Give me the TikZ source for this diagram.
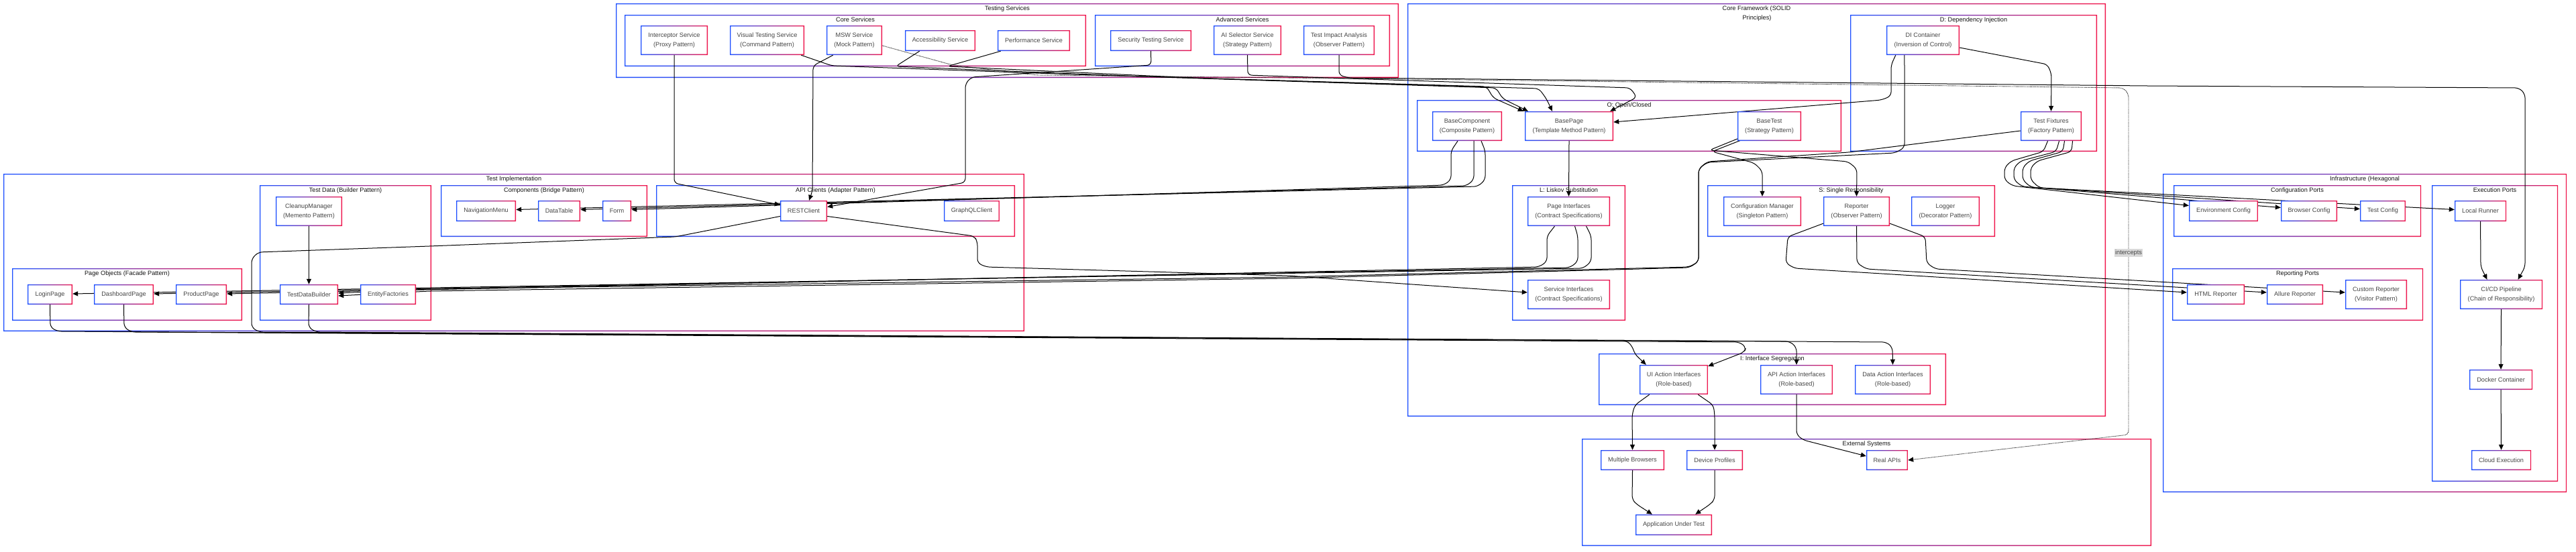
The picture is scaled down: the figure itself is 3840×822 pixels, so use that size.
\documentclass[tikz,border=0pt]{standalone}
\usepackage{fontspec}
\setmainfont{Liberation Sans}
\usetikzlibrary{arrows.meta,calc}
\definecolor{cb}{RGB}{30,80,255}
\definecolor{cr}{RGB}{240,20,75}
\definecolor{ntext}{RGB}{70,70,70}
\definecolor{ttext}{RGB}{20,20,20}
\pgfdeclarelayer{bgl}
\pgfdeclarelayer{edl}
\pgfsetlayers{bgl,edl,main}
\tikzset{
 nb/.style={fill=white,draw=none,inner sep=0pt,align=center,text=ntext,font=\fontsize{9.2}{14}\selectfont},
 ttl/.style={inner sep=0pt,text=ttext,font=\fontsize{9.2}{14}\selectfont,anchor=base},
 lbl/.style={fill=black!15,inner sep=1.5pt,text=ntext,font=\fontsize{9.2}{14}\selectfont},
 ed/.style={draw=black,line width=1pt,rounded corners=6pt,-{Triangle[length=8pt,width=7pt]}},
 edd/.style={draw=black,line width=0.9pt,densely dotted,rounded corners=6pt,-{Triangle[length=8pt,width=7pt]}},
}
\newcommand\NB[6]{%
 \node[nb,minimum width={(#4-#2)*1pt},minimum height={(#5-#3)*1pt}] (#1) at ({(#2+#4)/2},{(#3+#5)/2}) {#6};
 \shade[left color=cb,right color=cr,even odd rule] (#2,#3) rectangle (#4,#5) ({#2+1.3},{#3+1.3}) rectangle ({#4-1.3},{#5-1.3});
}
\newcommand\CL[6]{%
 \shade[left color=cb,right color=cr,even odd rule] (#2,#3) rectangle (#4,#5) ({#2+1.3},{#3+1.3}) rectangle ({#4-1.3},{#5-1.3});
 \node[ttl] (#1) at ({(#2+#4)/2},{#3+10}) {#6};
}
\begin{document}
\begin{tikzpicture}[x=1pt,y=-1pt]
\useasboundingbox (0,0) rectangle (3840,822);
\begin{pgfonlayer}{bgl}
\fill[white] (0,0) rectangle (3840,822);
\CL{ts}{918}{5}{2085}{116}{Testing Services}
\CL{cs}{931}{22}{1619}{99}{Core Services}
\CL{as}{1632}{22}{2072}{99}{Advanced Services}
\CL{ti}{5}{259}{1527}{494}{Test Implementation}
\CL{td}{387}{276}{643}{478}{Test Data (Builder Pattern)}
\CL{po}{18}{400}{361}{478}{Page Objects (Facade Pattern)}
\CL{co}{657}{276}{965}{353}{Components (Bridge Pattern)}
\CL{ac}{978}{276}{1513}{353}{API Clients (Adapter Pattern)}
\CL{cf}{2098}{5}{3139}{621}{Core Framework (SOLID}
\node[ttl] (cf2) at (2619,29) {Principles)};
\CL{oc}{2112}{149}{2745}{226}{O: Open/Closed}
\CL{dic}{2758}{22}{3126}{226}{D: Dependency Injection}
\CL{ls}{2254}{276}{2423}{478}{L: Liskov Substitution}
\CL{sr}{2545}{276}{2974}{353}{S: Single Responsibility}
\CL{isg}{2383}{527}{2901}{604}{I: Interface Segregation}
\CL{inf}{3224}{259}{3826}{734}{Infrastructure (Hexagonal}
\CL{cp}{3240}{276}{3609}{353}{Configuration Ports}
\CL{rp}{3238}{400}{3612}{478}{Reporting Ports}
\CL{ep}{3625}{276}{3813}{718}{Execution Ports}
\CL{es}{2358}{654}{3207}{814}{External Systems}
\end{pgfonlayer}
% nodes
\NB{interceptor}{955}{38}{1055}{82}{Interceptor Service\\(Proxy Pattern)}
\NB{visual}{1088}{38}{1199}{82}{Visual Testing Service\\(Command Pattern)}
\NB{msw}{1232}{38}{1315}{82}{MSW Service\\(Mock Pattern)}
\NB{access}{1349}{45}{1454}{76}{Accessibility Service}
\NB{perf}{1487}{45}{1595}{76}{Performance Service}
\NB{security}{1655}{45}{1776}{76}{Security Testing Service}
\NB{aisel}{1809}{38}{1910}{82}{AI Selector Service\\(Strategy Pattern)}
\NB{tia}{1943}{38}{2049}{82}{Test Impact Analysis\\(Observer Pattern)}
\NB{cleanup}{411}{293}{510}{337}{CleanupManager\\(Memento Pattern)}
\NB{login}{41}{424}{108}{454}{LoginPage}
\NB{dash}{140}{424}{229}{454}{DashboardPage}
\NB{product}{262}{424}{338}{454}{ProductPage}
\NB{tdb}{417}{424}{504}{454}{TestDataBuilder}
\NB{entity}{537}{424}{620}{454}{EntityFactories}
\NB{nav}{680}{299}{769}{330}{NavigationMenu}
\NB{datatable}{802}{299}{865}{330}{DataTable}
\NB{form}{898}{299}{941}{330}{Form}
\NB{rest}{1163}{299}{1233}{330}{RESTClient}
\NB{graphql}{1407}{299}{1490}{330}{GraphQLClient}
\NB{basecomp}{2135}{166}{2239}{210}{BaseComponent\\(Composite Pattern)}
\NB{basepage}{2273}{166}{2405}{210}{BasePage\\(Template Method Pattern)}
\NB{basetest}{2590}{166}{2685}{210}{BaseTest\\(Strategy Pattern)}
\NB{dicont}{2812}{38}{2921}{82}{DI Container\\(Inversion of Control)}
\NB{fixtures}{3012}{166}{3103}{210}{Test Fixtures\\(Factory Pattern)}
\NB{pageif}{2277}{293}{2400}{337}{Page Interfaces\\(Contract Specifications)}
\NB{serviceif}{2277}{417}{2400}{461}{Service Interfaces\\(Contract Specifications)}
\NB{configmgr}{2569}{293}{2685}{337}{Configuration Manager\\(Singleton Pattern)}
\NB{reporter}{2718}{293}{2817}{337}{Reporter\\(Observer Pattern)}
\NB{logger}{2849}{293}{2951}{337}{Logger\\(Decorator Pattern)}
\NB{uiaction}{2444}{544}{2546}{588}{UI Action Interfaces\\(Role-based)}
\NB{apiaction}{2624}{544}{2732}{588}{API Action Interfaces\\(Role-based)}
\NB{dataaction}{2765}{544}{2878}{588}{Data Action Interfaces\\(Role-based)}
\NB{browsers}{2386}{671}{2481}{701}{Multiple Browsers}
\NB{devices}{2514}{671}{2598}{701}{Device Profiles}
\NB{aut}{2438}{767}{2552}{798}{Application Under Test}
\NB{realapi}{2782}{671}{2844}{701}{Real APIs}
\NB{envcfg}{3263}{299}{3366}{330}{Environment Config}
\NB{browsercfg}{3400}{299}{3484}{330}{Browser Config}
\NB{testcfg}{3518}{299}{3586}{330}{Test Config}
\NB{localrun}{3659}{299}{3736}{330}{Local Runner}
\NB{html}{3260}{424}{3346}{454}{HTML Reporter}
\NB{allure}{3379}{424}{3463}{454}{Allure Reporter}
\NB{custom}{3496}{417}{3588}{461}{Custom Reporter\\(Visitor Pattern)}
\NB{cicd}{3667}{417}{3790}{461}{CI/CD Pipeline\\(Chain of Responsibility)}
\NB{docker}{3681}{551}{3775}{581}{Docker Container}
\NB{cloud}{3684}{671}{3773}{701}{Cloud Execution}
\node[lbl] (intlbl) at (3173,377) {intercepts};
% edges
\begin{pgfonlayer}{edl}
\path[ed] (interceptor.south) -- (1005,273) -- ($(rest.west)+(0,-9)$);
\path[ed] ($(msw.south west)+(10,0)$) -- (1212,98) -- (1211,285) -- ($(rest.north)+(8,0)$);
\path[edd] ($(msw.east)+(0,8)$) -- (1420,97) -- (1545,112) -- (2100,118) -- (3165,131) -- (3173,140) -- (3173,648) -- (realapi.east);
\path[ed] ($(visual.south east)+(-5,0)$) -- (1240,98) -- (1600,111) -- (2216,129) -- (2226,146) -- ($(basepage.north west)+(-2,0)$);
\path[ed] ($(access.south west)+(22,0)$) -- (1335,99) -- (1700,114) -- (2230,131) -- (2240,147) -- ($(basepage.north west)+(5,0)$);
\path[ed] ($(perf.south west)+(5,0)$) -- (1412,99) -- (1800,117) -- (2294,132) -- (2305,147) -- ($(basepage.north)+(-25,0)$);
\path[ed] (aisel.south) -- (1860,112) -- (2430,131) -- (2440,145) -- ($(basepage.north east)+(-5,0)$);
\path[ed] (security.south) -- (1716,97) -- (1448,115) -- (1439,125) -- (1439,272) -- ($(rest.east)+(0,-6)$);
\path[ed] (tia.south) -- (1996,112) -- (2010,116) -- (3200,128) -- (3755,131) -- (3764,140) -- (3764,398) -- ($(cicd.north)+(25,0)$);
\path[ed] (localrun.south) -- (3698,398) -- ($(cicd.north)+(-21,0)$);
\path[ed] (cicd.south) -- (docker.north);
\path[ed] (docker.south) -- (cloud.north);
\path[ed] ($(dicont.south west)+(14,0)$) -- (2819,97) -- (2819,143) -- (2805,149) -- ($(basepage.east)+(0,-6)$);
\path[ed] ($(dicont.east)+(0,11)$) -- (3052,96) -- (3058,110) -- (fixtures.north);
\path[ed] ($(dicont.south west)+(27,0)$) -- (2839,100) -- (2839,220) -- (2825,228) -- (2545,242) -- (2532,252) -- (2532,390) -- (2518,398) -- (1920,413) -- (640,431) -- ($(tdb.east)+(0,-2)$);
\path[ed] ($(fixtures.west)+(0,7)$) -- (2756,227) -- (2545,241) -- (2532,252) -- (2532,390) -- (2518,399) -- (1920,415) -- (640,434) -- ($(tdb.east)+(0,2)$);
\path[ed] ($(basetest.south west)+(2,-4)$) -- (2548,224) -- (2755,241) -- (2768,252) -- (reporter.north);
\path[ed] ($(basetest.south west)+(5,-1)$) -- (2552,226) -- (2615,243) -- (2627,255) -- (configmgr.north);
\path[ed] ($(reporter.south west)+(0,-4)$) -- (2665,353) -- (2662,392) -- (2675,400) -- ($(html.west)+(0,-3)$);
\path[ed] (reporter.south) -- (2768,392) -- (2782,401) -- ($(allure.west)+(0,-3)$);
\path[ed] ($(reporter.south east)+(0,-4)$) -- (2870,353) -- (2872,392) -- (2885,401) -- ($(custom.west)+(0,-3)$);
\path[ed] ($(fixtures.south)+(-5,0)$) -- (3046,226) -- (2998,240) -- (2988,250) -- (2988,268) -- (3000,277) -- ($(envcfg.west)+(0,-8)$);
\path[ed] ($(fixtures.south)+(12,0)$) -- (3065,226) -- (3012,240) -- (3002,250) -- (3002,268) -- (3014,278) -- ($(browsercfg.west)+(0,-5)$);
\path[ed] ($(fixtures.south)+(20,0)$) -- (3075,226) -- (3025,240) -- (3015,250) -- (3015,268) -- (3027,279) -- ($(testcfg.west)+(0,-3)$);
\path[ed] ($(fixtures.south)+(32,0)$) -- (3088,226) -- (3037,240) -- (3027,250) -- (3027,268) -- (3040,280) -- ($(localrun.west)+(0,-2)$);
\path[ed] ($(basecomp.south)+(-14,0)$) -- (2163,225) -- (2163,268) -- (2152,276) -- ($(form.east)+(0,-2)$);
\path[ed] ($(basecomp.south)+(10,0)$) -- (2197,225) -- (2197,268) -- (2186,277) -- ($(datatable.east)+(0,-2)$);
\path[ed] ($(basecomp.south)+(21,0)$) -- (2214,225) -- (2214,268) -- (2203,278) -- ($(nav.east)+(0,-2)$);
\path[ed] (basepage.south) -- (pageif.north);
\path[ed] ($(pageif.south)+(-21,0)$) -- (2306,352) -- (2306,390) -- (2294,398) -- ($(product.east)+(0,-1)$);
\path[ed] ($(pageif.south)+(9,0)$) -- (2352,352) -- (2352,390) -- (2340,399) -- ($(dash.east)+(0,-1)$);
\path[ed] ($(pageif.south)+(26,0)$) -- (2372,352) -- (2372,390) -- (2360,400) -- ($(login.east)+(0,-1)$);
\path[ed] ($(rest.east)+(0,8)$) -- (1452,352) -- (1457,360) -- (1457,392) -- (1470,398) -- (1920,411) -- ($(serviceif.west)+(0,-3)$);
\path[ed] ($(rest.west)+(0,8)$) -- (1007,353) -- (640,367) -- (385,376) -- (375,386) -- (375,488) -- (386,495) -- (2668,509) -- (2678,518) -- (apiaction.north);
\path[ed] (login.south) -- (75,488) -- (86,494) -- (2425,508) -- (2433,516) -- (2437,528) -- ($(uiaction.north west)+(10,0)$);
\path[ed] (dash.south) -- (185,488) -- (196,495) -- (2593,510) -- (2603,518) -- (2600,525) -- ($(uiaction.east)+(0,-20)$);
\path[ed] (tdb.south) -- (460,488) -- (471,495) -- (2812,510) -- (2821,518) -- (dataaction.north);
\path[ed] (cleanup.south) -- (tdb.north);
\path[ed] ($(uiaction.south west)+(15,0)$) -- (2437,604) -- (2433,618) -- (browsers.north);
\path[ed] ($(uiaction.south east)+(-15,0)$) -- (2554,604) -- (2556,618) -- (devices.north);
\path[ed] (browsers.south) -- (2433,745) -- (2440,752) -- ($(aut.north west)+(25,0)$);
\path[ed] (devices.south) -- (2556,745) -- (2549,752) -- ($(aut.north east)+(-25,0)$);
\path[ed] (apiaction.south) -- (2678,648) -- (2688,656) -- ($(realapi.west)+(0,-6)$);
\end{pgfonlayer}
\end{tikzpicture}
\end{document}
